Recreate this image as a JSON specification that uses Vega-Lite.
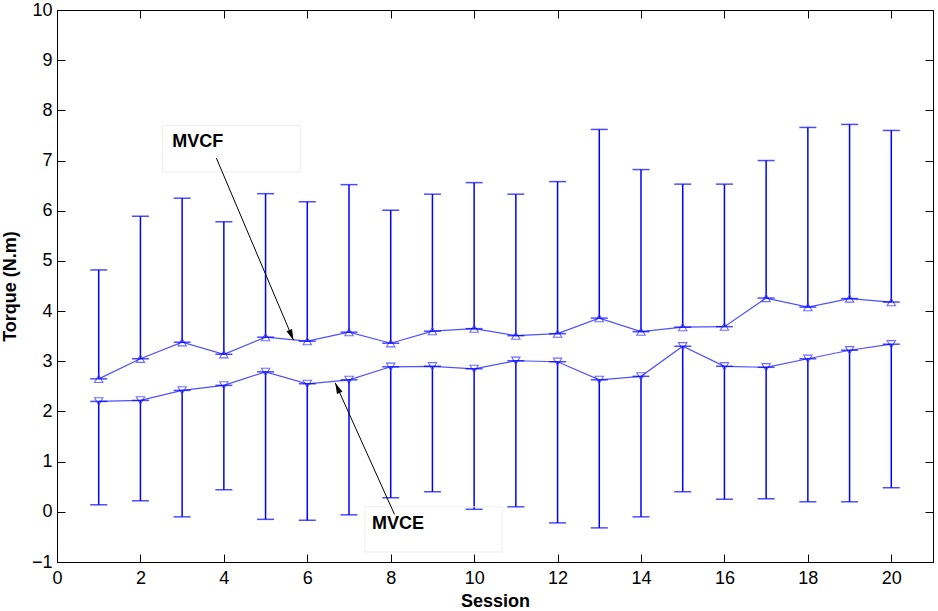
{
  "$schema": "https://vega.github.io/schema/vega-lite/v6.json",
  "width": 876,
  "height": 552,
  "autosize": {"type": "none"},
  "padding": {"left": 57, "top": 10, "right": 5, "bottom": 49},
  "datasets": {
    "series": [
      {"session": 1, "group": "MVCF", "mean": 2.65, "bound": 4.82},
      {"session": 2, "group": "MVCF", "mean": 3.05, "bound": 5.89},
      {"session": 3, "group": "MVCF", "mean": 3.38, "bound": 6.25},
      {"session": 4, "group": "MVCF", "mean": 3.14, "bound": 5.78},
      {"session": 5, "group": "MVCF", "mean": 3.48, "bound": 6.34},
      {"session": 6, "group": "MVCF", "mean": 3.40, "bound": 6.18},
      {"session": 7, "group": "MVCF", "mean": 3.58, "bound": 6.52},
      {"session": 8, "group": "MVCF", "mean": 3.36, "bound": 6.01},
      {"session": 9, "group": "MVCF", "mean": 3.60, "bound": 6.33},
      {"session": 10, "group": "MVCF", "mean": 3.65, "bound": 6.56},
      {"session": 11, "group": "MVCF", "mean": 3.51, "bound": 6.33},
      {"session": 12, "group": "MVCF", "mean": 3.55, "bound": 6.58},
      {"session": 13, "group": "MVCF", "mean": 3.86, "bound": 7.62},
      {"session": 14, "group": "MVCF", "mean": 3.59, "bound": 6.82},
      {"session": 15, "group": "MVCF", "mean": 3.68, "bound": 6.53},
      {"session": 16, "group": "MVCF", "mean": 3.69, "bound": 6.53},
      {"session": 17, "group": "MVCF", "mean": 4.26, "bound": 7.00},
      {"session": 18, "group": "MVCF", "mean": 4.08, "bound": 7.66},
      {"session": 19, "group": "MVCF", "mean": 4.25, "bound": 7.72},
      {"session": 20, "group": "MVCF", "mean": 4.18, "bound": 7.60},
      {"session": 1, "group": "MVCE", "mean": 2.20, "bound": 0.14},
      {"session": 2, "group": "MVCE", "mean": 2.22, "bound": 0.22},
      {"session": 3, "group": "MVCE", "mean": 2.42, "bound": -0.10},
      {"session": 4, "group": "MVCE", "mean": 2.52, "bound": 0.44},
      {"session": 5, "group": "MVCE", "mean": 2.79, "bound": -0.15},
      {"session": 6, "group": "MVCE", "mean": 2.55, "bound": -0.17},
      {"session": 7, "group": "MVCE", "mean": 2.63, "bound": -0.06},
      {"session": 8, "group": "MVCE", "mean": 2.89, "bound": 0.28},
      {"session": 9, "group": "MVCE", "mean": 2.90, "bound": 0.40},
      {"session": 10, "group": "MVCE", "mean": 2.85, "bound": 0.05},
      {"session": 11, "group": "MVCE", "mean": 3.01, "bound": 0.10},
      {"session": 12, "group": "MVCE", "mean": 2.99, "bound": -0.22},
      {"session": 13, "group": "MVCE", "mean": 2.63, "bound": -0.32},
      {"session": 14, "group": "MVCE", "mean": 2.70, "bound": -0.10},
      {"session": 15, "group": "MVCE", "mean": 3.30, "bound": 0.40},
      {"session": 16, "group": "MVCE", "mean": 2.90, "bound": 0.25},
      {"session": 17, "group": "MVCE", "mean": 2.88, "bound": 0.26},
      {"session": 18, "group": "MVCE", "mean": 3.05, "bound": 0.20},
      {"session": 19, "group": "MVCE", "mean": 3.22, "bound": 0.20},
      {"session": 20, "group": "MVCE", "mean": 3.34, "bound": 0.48}
    ],
    "labels": [
      {"label": "MVCF", "x": 2.76, "y": 7.36, "bx": 2.53, "bx2": 5.84, "by": 7.70, "by2": 6.77},
      {"label": "MVCE", "x": 7.55, "y": -0.25, "bx": 7.38, "bx2": 10.67, "by": 0.10, "by2": -0.80}
    ],
    "arrows": [
      {"name": "MVCF", "x": 3.82, "y": 7.05, "x2": 5.67, "y2": 3.42},
      {"name": "MVCE", "x": 8.09, "y": -0.05, "x2": 6.67, "y2": 2.57}
    ]
  },
  "resolve": {"axis": {"x": "independent", "y": "independent"}},
  "layer": [
    {
      "data": {"name": "series"},
      "mark": {"type": "rule", "color": "#0000ff", "strokeWidth": 1.5},
      "encoding": {
        "x": {"field": "session", "type": "quantitative",
              "scale": {"domain": [0, 21], "nice": false, "zero": false},
              "axis": {"orient": "bottom", "values": [0, 2, 4, 6, 8, 10, 12, 14, 16, 18, 20],
                       "title": "Session", "titleY": 44, "titleBaseline": "alphabetic"}},
        "y": {"field": "mean", "type": "quantitative",
              "scale": {"domain": [-1, 10], "nice": false, "zero": false},
              "axis": {"orient": "left", "values": [-1, 0, 1, 2, 3, 4, 5, 6, 7, 8, 9, 10],
                       "title": "Torque (N.m)", "titleX": -42, "titleY": 276, "titleBaseline": "alphabetic"}},
        "y2": {"field": "bound"}
      }
    },
    {
      "data": {"name": "series"},
      "mark": {"type": "rule", "opacity": 0},
      "encoding": {
        "x": {"field": "session", "type": "quantitative",
              "axis": {"orient": "top", "values": [0, 2, 4, 6, 8, 10, 12, 14, 16, 18, 20],
                       "labels": false, "title": null}},
        "y": {"field": "mean", "type": "quantitative",
              "axis": {"orient": "right", "values": [-1, 0, 1, 2, 3, 4, 5, 6, 7, 8, 9, 10],
                       "labels": false, "title": null}}
      }
    },
    {
      "data": {"name": "series"},
      "mark": {"type": "line", "color": "#5050ff", "strokeWidth": 1.2},
      "encoding": {
        "x": {"field": "session", "type": "quantitative", "axis": null},
        "y": {"field": "mean", "type": "quantitative", "axis": null},
        "detail": {"field": "group"}
      }
    },
    {
      "data": {"name": "series"},
      "mark": {"type": "point", "filled": false, "color": "#3030ff", "strokeWidth": 1.1, "size": 70},
      "encoding": {
        "x": {"field": "session", "type": "quantitative", "axis": null},
        "y": {"field": "mean", "type": "quantitative", "axis": null},
        "shape": {"field": "group", "type": "nominal",
                  "scale": {"domain": ["MVCF", "MVCE"], "range": ["triangle-up", "triangle-down"]},
                  "legend": null}
      }
    },
    {
      "data": {"name": "series"},
      "mark": {"type": "tick", "orient": "horizontal", "color": "#0000ff", "size": 17, "thickness": 1.5},
      "encoding": {
        "x": {"field": "session", "type": "quantitative", "axis": null},
        "y": {"field": "bound", "type": "quantitative", "axis": null}
      }
    },
    {
      "data": {"name": "series"},
      "mark": {"type": "tick", "orient": "horizontal", "color": "#0000ff", "size": 17, "thickness": 1.5},
      "encoding": {
        "x": {"field": "session", "type": "quantitative", "axis": null},
        "y": {"field": "mean", "type": "quantitative", "axis": null}
      }
    },
    {
      "data": {"name": "labels"},
      "mark": {"type": "rect", "fill": null, "stroke": "#eeeeee", "strokeWidth": 1},
      "encoding": {
        "x": {"field": "bx", "type": "quantitative", "axis": null},
        "x2": {"field": "bx2"},
        "y": {"field": "by", "type": "quantitative", "axis": null},
        "y2": {"field": "by2"}
      }
    },
    {
      "data": {"name": "labels"},
      "mark": {"type": "text", "align": "left", "baseline": "middle", "font": "Liberation Sans",
               "fontWeight": "bold", "fontSize": 18, "color": "black"},
      "encoding": {
        "x": {"field": "x", "type": "quantitative", "axis": null},
        "y": {"field": "y", "type": "quantitative", "axis": null},
        "text": {"field": "label"}
      }
    },
    {
      "data": {"name": "arrows"},
      "mark": {"type": "rule", "color": "black", "strokeWidth": 1},
      "encoding": {
        "x": {"field": "x", "type": "quantitative", "axis": null},
        "y": {"field": "y", "type": "quantitative", "axis": null},
        "x2": {"field": "x2"},
        "y2": {"field": "y2"}
      }
    },
    {
      "data": {"name": "arrows"},
      "transform": [{"filter": "datum.name === 'MVCF'"}],
      "mark": {"type": "point", "shape": "M0,0L-0.6,2.2L0.6,2.2Z", "filled": true, "color": "black",
               "opacity": 1, "size": 100, "angle": 157},
      "encoding": {
        "x": {"field": "x2", "type": "quantitative", "axis": null},
        "y": {"field": "y2", "type": "quantitative", "axis": null}
      }
    },
    {
      "data": {"name": "arrows"},
      "transform": [{"filter": "datum.name === 'MVCE'"}],
      "mark": {"type": "point", "shape": "M0,0L-0.6,2.2L0.6,2.2Z", "filled": true, "color": "black",
               "opacity": 1, "size": 100, "angle": 336},
      "encoding": {
        "x": {"field": "x2", "type": "quantitative", "axis": null},
        "y": {"field": "y2", "type": "quantitative", "axis": null}
      }
    }
  ],
  "config": {
    "view": {"stroke": "black", "strokeWidth": 1},
    "axis": {
      "grid": false,
      "domainColor": "black",
      "domainWidth": 1,
      "tickColor": "black",
      "tickWidth": 1,
      "tickSize": -8,
      "labelFont": "Liberation Sans",
      "labelFontSize": 18,
      "labelColor": "black",
      "labelFlush": false,
      "labelOverlap": false,
      "titleFont": "Liberation Sans",
      "titleFontSize": 18,
      "titleFontWeight": "bold",
      "titleColor": "black"
    },
    "axisX": {"labelPadding": 15},
    "axisY": {"labelPadding": 13}
  }
}
